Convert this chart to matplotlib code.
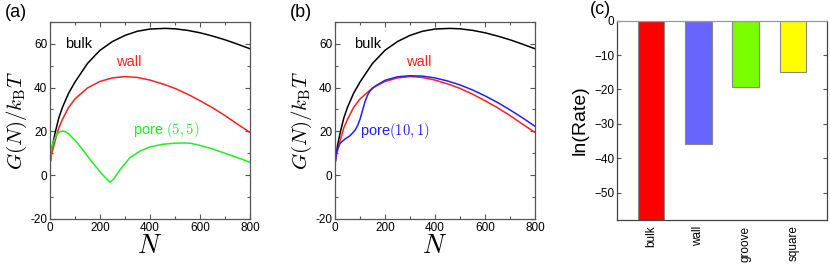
import numpy as np
import matplotlib
matplotlib.use("Agg")
import matplotlib.pyplot as plt
from matplotlib.ticker import MultipleLocator

plt.rcParams.update({
    'font.family': ['Liberation Sans', 'DejaVu Sans'],
    'mathtext.fontset': 'cm',
    'axes.unicode_minus': False,
    'font.size': 8,
})

# free energy curves, G(N)/kT
n_grid = [0, 5, 10, 20, 35, 50, 75, 100, 150, 200, 250, 300, 350, 400, 460,
          500, 550, 600, 650, 700, 750, 800]
g_bulk = [5, 9.5, 13.5, 19, 26, 31, 37.5, 42.5, 51, 57, 61, 63.8, 65.7, 66.7, 67,
          66.8, 66.1, 65, 63.5, 61.8, 59.8, 57.7]
g_wall = [5, 8.5, 11, 15.5, 21.5, 25.5, 31, 34.8, 39.8, 42.8, 44.4, 45, 44.6, 43.4, 41.3,
          39.6, 37, 34, 30.8, 27.2, 23.3, 19.5]

n_pore55 = [0, 5, 10, 20, 30, 40, 50, 60, 75, 100, 130, 160, 200, 225, 240, 255, 280,
            320, 360, 400, 450, 500, 530, 560, 600, 650, 700, 750, 800]
g_pore55 = [5, 11, 14, 17, 19, 19.8, 20.2, 19.9, 18.8, 16, 11.8, 7.2, 1.6, -1.6, -3.2,
            -1.8, 2.5, 8, 11, 12.9, 14.1, 14.6, 14.7, 14.6, 13.6, 12, 10, 8, 5.9]

n_pore101 = [0, 5, 10, 20, 40, 60, 80, 90, 100, 110, 120, 130, 140, 160, 200, 250, 300,
             350, 400, 450, 500, 550, 600, 650, 700, 750, 800]
g_pore101 = [5, 10, 12, 14.5, 16.5, 18, 20.5, 22.5, 25.5, 29.5, 33.5, 36.5, 38.5, 40.6,
             43.3, 44.9, 45.4, 45.2, 44.4, 43, 41.2, 38.9, 36.2, 33.2, 29.8, 26.2, 22.3]

# nucleation rates
rate_labels = ['bulk', 'wall', 'groove', 'square']
ln_rate = [-60, -35.8, -19.4, -14.9]
bar_colors = ['#ff0000', '#6666ff', '#77ff00', '#ffff00']

fig = plt.figure(figsize=(8.3, 2.66), dpi=100)
ax_a = fig.add_axes([0.0602, 0.1767, 0.241, 0.7413])
ax_b = fig.add_axes([0.4036, 0.1767, 0.241, 0.7413])
ax_c = fig.add_axes([0.7437, 0.1729, 0.253, 0.7492])

spine_col = '#555555'


def style_g(ax):
    ax.set_xlim(0, 800)
    ax.set_ylim(-20, 70)
    ax.xaxis.set_major_locator(MultipleLocator(200))
    ax.xaxis.set_minor_locator(MultipleLocator(100))
    ax.yaxis.set_major_locator(MultipleLocator(20))
    ax.yaxis.set_minor_locator(MultipleLocator(10))
    ax.tick_params(which='both', direction='in', top=True, right=True,
                   color=spine_col, labelsize=8.5, pad=2)
    ax.tick_params(which='major', length=3.5, width=0.8)
    ax.tick_params(which='minor', length=2.2, width=0.8)
    for s in ax.spines.values():
        s.set_color(spine_col)
        s.set_linewidth(0.9)
    ax.set_xlabel(r'$N$', fontsize=19, labelpad=0)
    ax.set_ylabel(r'$G(N)/k_{\rm B}T$', fontsize=15, labelpad=1)


lw = 1.1
ax_a.plot(n_grid, g_bulk, color='black', lw=lw)
ax_a.plot(n_grid, g_wall, color='#ff2020', lw=lw)
ax_a.plot(n_pore55, g_pore55, color='#22ee22', lw=lw)
style_g(ax_a)
ax_a.text(60, 60, 'bulk', color='black', fontsize=10.5, va='center')
ax_a.text(265, 51.5, 'wall', color='#ff2020', fontsize=10.5, va='center')
ax_a.text(332, 20.5, r'pore $(5,5)$', color='#22ee22', fontsize=10.5, va='center')
fig.text(0.006, 0.985, '(a)', fontsize=13, va='top')

ax_b.plot(n_grid, g_bulk, color='black', lw=lw)
ax_b.plot(n_grid, g_wall, color='#ff2020', lw=lw)
ax_b.plot(n_pore101, g_pore101, color='#2020ff', lw=lw)
style_g(ax_b)
ax_b.text(76, 60, 'bulk', color='black', fontsize=10.5, va='center')
ax_b.text(284, 51.5, 'wall', color='#ff2020', fontsize=10.5, va='center')
ax_b.text(100, 20, r'pore$(10,1)$', color='#2020ff', fontsize=10.5, va='center')
fig.text(0.349, 0.985, '(b)', fontsize=13, va='top')

# panel c bars
x = np.arange(len(rate_labels))
ax_c.bar(x, ln_rate, width=0.56, color=bar_colors, edgecolor='#888888', linewidth=0.8)
ax_c.set_xlim(-0.71, 3.72)
ax_c.set_ylim(-58, 0)
ax_c.set_xticks(x)
ax_c.set_xticklabels(rate_labels, rotation=90, fontsize=8.5)
yt = [0, -10, -20, -30, -40, -50]
ax_c.set_yticks(yt)
ax_c.set_yticklabels([str(v).replace('-', '\u2212') for v in yt], fontsize=8.5)
ax_c.tick_params(axis='y', direction='in', right=True, length=3, color=spine_col, pad=2)
ax_c.tick_params(axis='x', length=0, pad=4)
for s in ax_c.spines.values():
    s.set_color('#444444')
    s.set_linewidth(0.9)
ax_c.spines['top'].set_color('#999999')
ax_c.set_ylabel('ln(Rate)', fontsize=14, labelpad=4)
fig.text(0.711, 0.998, '(c)', fontsize=13, va='top')

fig.savefig('out.png', dpi=100)
